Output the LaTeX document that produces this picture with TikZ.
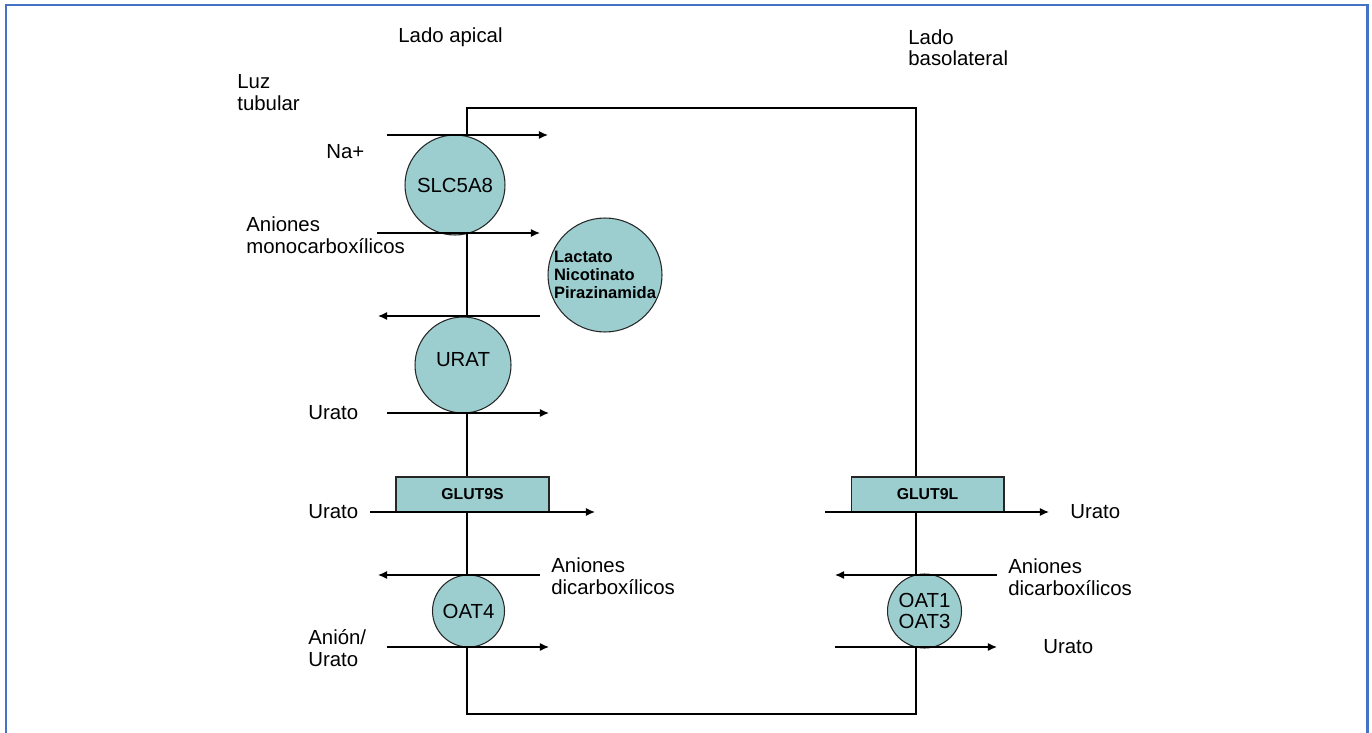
\documentclass[tikz,border=0pt]{standalone}
\usepackage{fontspec}
\setmainfont{Liberation Sans}
\usetikzlibrary{arrows.meta,positioning}
\definecolor{canal}{RGB}{156,206,208}
\definecolor{marco}{RGB}{68,114,196}
\tikzset{
  transp/.style={circle,draw=black!85,fill=canal,line width=0.6pt,inner sep=0pt,
    align=center,font=\fontsize{11.6}{11.6}\selectfont},
  glut/.style={rectangle,draw=black!85,fill=canal,line width=0.6pt,inner sep=0pt,
    minimum width=3.06cm,minimum height=0.7cm,font=\fontsize{9}{10}\selectfont\bfseries},
  rotulo/.style={anchor=west,inner sep=0pt,align=left,font=\fontsize{11.6}{12.2}\selectfont},
  flujo/.style={-{Latex[length=5.2pt,width=4.6pt]},line width=0.75pt},
  membrana/.style={line width=0.75pt}
}
\begin{document}
\begin{tikzpicture}[x=0.02cm,y=-0.02cm]
%
\useasboundingbox (0,0) rectangle (1372,733);
%
% marco
\draw[marco,line width=1.7pt] (6,733) -- (6,5) -- (1367,5) -- (1367,733);
%
% celula
\coordinate (tl) at (467,108);
\coordinate (tr) at (916,108);
\coordinate (br) at (916,714);
\coordinate (bl) at (467,714);
\draw[membrana] (tl) -- (tr) -- (br) -- (bl) -- cycle;
%
% transportadores
\node[transp,minimum size=2cm] (slc) at (455,185) {SLC5A8};
\node[transp,minimum size=2.28cm,align=left,font=\fontsize{9.4}{10.2}\selectfont\bfseries] (lact) at (605,275) {Lactato\\Nicotinato\\Pirazinamida};
\node[transp,minimum size=1.92cm] (urat) at (463,365) {\raisebox{6pt}{URAT}};
\node[glut] (glutS) at (472.5,494.5) {GLUT9S};
\node[transp,minimum size=1.44cm] (oat4) at (468.5,611) {OAT4};
\node[glut] (glutL) at (927.5,494.5) {GLUT9L};
\node[transp,minimum size=1.48cm] (oat13) at (924.5,611) {OAT1\\OAT3};
%
% rotulos
\node[rotulo] (apical) at (398,37) {Lado apical};
\node[rotulo] (baso) at (908,48) {Lado\\basolateral};
\node[rotulo] (luz) at (237,92.5) {Luz\\tubular};
\node[rotulo] (na) at (326,152) {Na+};
\node[rotulo] (mono) at (246,235) {Aniones\\monocarboxílicos};
\node[rotulo] (ur1) at (308,413) {Urato};
\node[rotulo] (ur2) at (308,512) {Urato};
\node[rotulo] (dia) at (551,576) {Aniones\\dicarboxílicos};
\node[rotulo] (anion) at (308,648) {Anión/\\Urato};
\node[rotulo] (ur3) at (1070,512) {Urato};
\node[rotulo] (dib) at (1008,577) {Aniones\\dicarboxílicos};
\node[rotulo] (ur4) at (1043,647) {Urato};
%
% extremos de flechas
\coordinate (a1i) at (387,135); \coordinate (a1f) at (548,135);
\coordinate (a2i) at (377,233); \coordinate (a2f) at (540,233);
\coordinate (a3i) at (540,316); \coordinate (a3f) at (378,316);
\coordinate (a4i) at (387,413); \coordinate (a4f) at (549,413);
\coordinate (a5i) at (370,512); \coordinate (a5f) at (595,512);
\coordinate (a6i) at (540,575); \coordinate (a6f) at (378,575);
\coordinate (a7i) at (387,647); \coordinate (a7f) at (549,647);
\coordinate (b1i) at (825,512); \coordinate (b1f) at (1049,512);
\coordinate (b2i) at (997,575); \coordinate (b2f) at (835,575);
\coordinate (b3i) at (835,647); \coordinate (b3f) at (997,647);
%
\draw[flujo] (a1i) -- (a1f);
\draw[flujo] (a2i) -- (a2f);
\draw[flujo] (a3i) -- (a3f);
\draw[flujo] (a4i) -- (a4f);
\draw[flujo] (a5i) -- (a5f);
\draw[flujo] (a6i) -- (a6f);
\draw[flujo] (a7i) -- (a7f);
\draw[flujo] (b1i) -- (b1f);
\draw[flujo] (b2i) -- (b2f);
\draw[flujo] (b3i) -- (b3f);
%
\end{tikzpicture}
\end{document}
